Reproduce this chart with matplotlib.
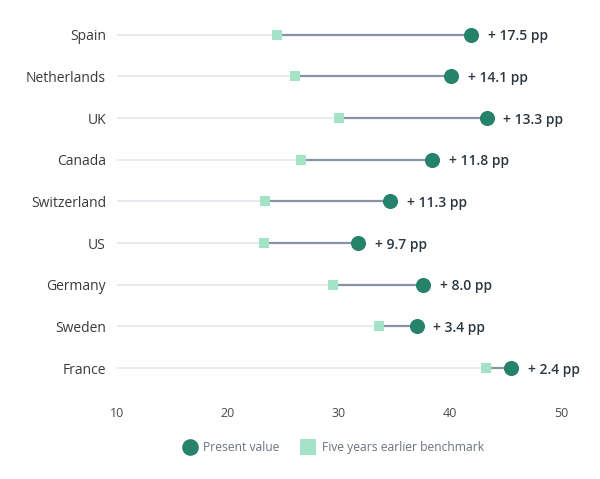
import matplotlib
matplotlib.use("Agg")
import matplotlib.pyplot as plt
from matplotlib.lines import Line2D

plt.rcParams['font.family'] = ['Open Sans', 'DejaVu Sans']

# data, top to bottom
countries = ['Spain', 'Netherlands', 'UK', 'Canada', 'Switzerland',
             'US', 'Germany', 'Sweden', 'France']
present = [41.9, 40.1, 43.3, 38.4, 34.6, 31.7, 37.6, 37.0, 45.5]
earlier = [24.4, 26.0, 30.0, 26.6, 23.3, 23.2, 29.5, 33.6, 43.2]
change_labels = ['+ 17.5 pp', '+ 14.1 pp', '+ 13.3 pp', '+ 11.8 pp', '+ 11.3 pp',
                 '+ 9.7 pp', '+ 8.0 pp', '+ 3.4 pp', '+ 2.4 pp']
x_ticks = [10, 20, 30, 40, 50]

c_present = '#26826a'
c_earlier = '#a3e4c7'
c_track = '#e4e7ec'
c_link = '#8893a6'

fig = plt.figure(figsize=(6, 4.79), dpi=100)
ax = fig.add_axes([0.195, 0.188, 0.74, 0.783])

ys = list(range(len(countries)))[::-1]

for y, p, e, lab in zip(ys, present, earlier, change_labels):
    ax.plot([x_ticks[0], e], [y, y], color=c_track, lw=1.3, zorder=1,
            solid_capstyle='butt')
    ax.plot([e, p], [y, y], color=c_link, lw=1.6, zorder=2,
            solid_capstyle='butt')
    ax.text(p + 1.5, y, lab, ha='left', va='center_baseline', fontsize=10,
            fontweight='semibold', color='#2b3640', clip_on=False)

ax.scatter(earlier, ys, marker='s', s=55, color=c_earlier, zorder=3,
           linewidths=0)
ax.scatter(present, ys, marker='o', s=118, color=c_present, zorder=4,
           linewidths=0)

ax.set_xlim(10, 50)
ax.set_ylim(-0.5, len(countries) - 0.5)
ax.set_xticks(x_ticks)
ax.set_xticklabels([str(t) for t in x_ticks], fontsize=9, color='#4a4a4a')
ax.set_yticks(ys)
ax.set_yticklabels(countries, fontsize=10, color='#3a3a3a')
ax.tick_params(axis='both', length=0)
ax.tick_params(axis='y', pad=8)
ax.tick_params(axis='x', pad=13)
for s in ax.spines.values():
    s.set_visible(False)

handles = [
    Line2D([], [], marker='o', linestyle='none', markersize=12,
           markerfacecolor=c_present, markeredgewidth=0),
    Line2D([], [], marker='s', linestyle='none', markersize=11,
           markerfacecolor=c_earlier, markeredgewidth=0),
]
leg = fig.legend(handles, ['Present value', 'Five years earlier benchmark'],
                 loc='center', bbox_to_anchor=(0.555, 0.066), ncol=2,
                 frameon=False, fontsize=8.7, handletextpad=0.5,
                 columnspacing=1.8, handlelength=1.2)
for t in leg.get_texts():
    t.set_color('#6b7280')

fig.savefig('out.png', dpi=100, facecolor='white')
